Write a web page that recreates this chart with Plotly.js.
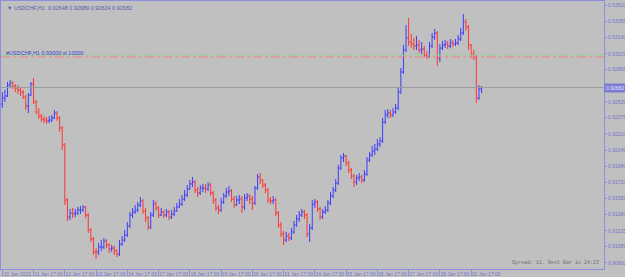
<!DOCTYPE html>
<html><head><meta charset="utf-8">
<script src="https://cdn.plot.ly/plotly-3.0.1.min.js"></script>
<style>html,body{margin:0;padding:0;background:#c0c0c0;}#chart{width:625px;height:277px;}</style>
</head><body><div id="chart"></div>
<script>
const symbolTitle = "\u25BC USDCHF,H1  0.92648 0.92689 0.92624 0.92682";
const spreadText = "Spread: 11. Next Bar in 24:23";
const orderLabel = "#USDCHF,H1 0.93000 sl 10000";
const tickHours = [0,24,48,72,96,120,144,168,192,216,240,264,288,312,336,360];
const tickLabels = ["10 Jan 2022","11 Jan 17:00","12 Jan 17:00","13 Jan 17:00","14 Jan 17:00","17 Jan 17:00","18 Jan 17:00","19 Jan 17:00","20 Jan 17:00","21 Jan 17:00","24 Jan 17:00","25 Jan 17:00","26 Jan 17:00","27 Jan 17:00","28 Jan 17:00","31 Jan 17:00"];
const priceTicks = [0.93520,0.93355,0.93190,0.93025,0.92865,0.92535,0.92375,0.92210,0.92045,0.91880,0.91720,0.91555,0.91390,0.91225,0.91065,0.90900];
const levelGreen = 0.93012;
const levelRed = 0.92992;
const openP = [0.92514,0.92575,0.92596,0.92707,0.92728,0.92697,0.92677,0.92657,0.92636,0.92585,
0.92494,0.92606,0.92718,0.92535,0.92433,0.92392,0.92362,0.92352,0.92342,0.92352,
0.92372,0.92423,0.92372,0.92271,0.92098,0.91539,0.91366,0.91407,0.91397,0.91407,
0.91437,0.91437,0.91468,0.91387,0.91234,0.91143,0.91011,0.91011,0.91061,0.91061,
0.91122,0.91082,0.91041,0.91051,0.91021,0.90990,0.91092,0.91133,0.91183,0.91275,
0.91387,0.91417,0.91437,0.91488,0.91529,0.91427,0.91356,0.91265,0.91387,0.91498,
0.91458,0.91387,0.91417,0.91387,0.91417,0.91366,0.91397,0.91427,0.91468,0.91498,
0.91549,0.91590,0.91651,0.91702,0.91722,0.91641,0.91610,0.91661,0.91661,0.91651,
0.91691,0.91610,0.91539,0.91458,0.91437,0.91519,0.91580,0.91620,0.91630,0.91549,
0.91488,0.91539,0.91549,0.91468,0.91559,0.91580,0.91549,0.91509,0.91661,0.91773,
0.91742,0.91691,0.91641,0.91539,0.91529,0.91539,0.91407,0.91285,0.91194,0.91133,
0.91173,0.91153,0.91214,0.91285,0.91346,0.91387,0.91417,0.91387,0.91194,0.91255,
0.91498,0.91519,0.91448,0.91366,0.91417,0.91437,0.91509,0.91580,0.91641,0.91712,
0.91864,0.91966,0.91986,0.91915,0.91844,0.91783,0.91722,0.91763,0.91773,0.91742,
0.91803,0.91945,0.91996,0.92037,0.92057,0.92108,0.92138,0.92331,0.92403,0.92423,
0.92403,0.92433,0.92474,0.92636,0.92839,0.93063,0.93185,0.93144,0.93124,0.93104,
0.93114,0.93063,0.93073,0.93012,0.93002,0.93104,0.93195,0.93236,0.92982,0.93083,
0.93114,0.93124,0.93104,0.93134,0.93124,0.93134,0.93175,0.93236,0.93347,0.93297,
0.93114,0.93022,0.92992,0.92575,0.92667];
const highP = [0.92636,0.92657,0.92738,0.92758,0.92748,0.92718,0.92707,0.92677,0.92657,0.92606,
0.92626,0.92738,0.92779,0.92555,0.92474,0.92413,0.92392,0.92382,0.92392,0.92403,
0.92453,0.92443,0.92392,0.92291,0.92118,0.91559,0.91448,0.91458,0.91448,0.91468,
0.91478,0.91488,0.91478,0.91407,0.91255,0.91163,0.91051,0.91102,0.91133,0.91153,
0.91143,0.91102,0.91082,0.91072,0.91041,0.91133,0.91173,0.91234,0.91315,0.91417,
0.91458,0.91488,0.91519,0.91569,0.91549,0.91458,0.91376,0.91417,0.91539,0.91529,
0.91478,0.91458,0.91437,0.91448,0.91437,0.91437,0.91468,0.91509,0.91549,0.91590,
0.91641,0.91691,0.91742,0.91773,0.91742,0.91671,0.91691,0.91702,0.91702,0.91722,
0.91712,0.91630,0.91559,0.91488,0.91559,0.91610,0.91661,0.91681,0.91651,0.91580,
0.91580,0.91590,0.91580,0.91600,0.91610,0.91600,0.91580,0.91681,0.91803,0.91813,
0.91752,0.91712,0.91661,0.91569,0.91580,0.91559,0.91427,0.91315,0.91224,0.91214,
0.91204,0.91255,0.91326,0.91387,0.91427,0.91448,0.91437,0.91407,0.91295,0.91539,
0.91549,0.91539,0.91468,0.91448,0.91478,0.91539,0.91620,0.91671,0.91752,0.91895,
0.91996,0.92017,0.91996,0.91935,0.91864,0.91803,0.91793,0.91813,0.91793,0.91844,
0.91976,0.92027,0.92088,0.92108,0.92159,0.92179,0.92372,0.92453,0.92464,0.92453,
0.92474,0.92514,0.92677,0.92880,0.93114,0.93317,0.93388,0.93226,0.93185,0.93205,
0.93165,0.93144,0.93104,0.93053,0.93144,0.93236,0.93276,0.93256,0.93124,0.93154,
0.93165,0.93154,0.93175,0.93165,0.93175,0.93215,0.93287,0.93429,0.93378,0.93317,
0.93124,0.93063,0.93012,0.92707,0.92697];
const lowP = [0.92474,0.92535,0.92585,0.92677,0.92667,0.92636,0.92616,0.92596,0.92565,0.92453,
0.92423,0.92596,0.92514,0.92413,0.92362,0.92331,0.92321,0.92311,0.92321,0.92331,
0.92362,0.92342,0.92230,0.92047,0.91488,0.91326,0.91336,0.91356,0.91366,0.91387,
0.91397,0.91417,0.91356,0.91204,0.91112,0.90980,0.90940,0.90980,0.91021,0.91041,
0.91051,0.91001,0.91011,0.90980,0.90960,0.90970,0.91072,0.91112,0.91163,0.91255,
0.91356,0.91397,0.91417,0.91468,0.91397,0.91315,0.91234,0.91244,0.91366,0.91427,
0.91356,0.91376,0.91356,0.91366,0.91336,0.91346,0.91376,0.91417,0.91458,0.91478,
0.91529,0.91569,0.91641,0.91671,0.91610,0.91569,0.91590,0.91620,0.91610,0.91630,
0.91580,0.91498,0.91427,0.91397,0.91417,0.91498,0.91559,0.91580,0.91519,0.91458,
0.91478,0.91498,0.91407,0.91437,0.91529,0.91498,0.91437,0.91488,0.91641,0.91702,
0.91661,0.91610,0.91509,0.91498,0.91498,0.91376,0.91255,0.91163,0.91082,0.91112,
0.91122,0.91133,0.91194,0.91265,0.91315,0.91366,0.91346,0.91163,0.91112,0.91234,
0.91458,0.91417,0.91336,0.91346,0.91397,0.91417,0.91488,0.91559,0.91620,0.91691,
0.91844,0.91925,0.91884,0.91813,0.91752,0.91671,0.91691,0.91732,0.91712,0.91722,
0.91783,0.91925,0.91976,0.91996,0.92037,0.92077,0.92118,0.92311,0.92372,0.92372,
0.92382,0.92413,0.92453,0.92616,0.92819,0.93043,0.93104,0.93083,0.93063,0.93063,
0.93033,0.93022,0.92992,0.92972,0.92982,0.93083,0.93165,0.92900,0.92941,0.93063,
0.93083,0.93073,0.93083,0.93093,0.93104,0.93114,0.93154,0.93215,0.93256,0.93063,
0.92982,0.92961,0.92525,0.92555,0.92624];
const closeP = [0.92575,0.92596,0.92707,0.92728,0.92697,0.92677,0.92657,0.92636,0.92585,0.92494,
0.92606,0.92718,0.92535,0.92433,0.92392,0.92362,0.92352,0.92342,0.92352,0.92372,
0.92423,0.92372,0.92271,0.92098,0.91539,0.91366,0.91407,0.91397,0.91407,0.91437,
0.91437,0.91468,0.91387,0.91234,0.91143,0.91011,0.91011,0.91061,0.91061,0.91122,
0.91082,0.91041,0.91051,0.91021,0.90990,0.91092,0.91133,0.91183,0.91275,0.91387,
0.91417,0.91437,0.91488,0.91529,0.91427,0.91356,0.91265,0.91387,0.91498,0.91458,
0.91387,0.91417,0.91387,0.91417,0.91366,0.91397,0.91427,0.91468,0.91498,0.91549,
0.91590,0.91651,0.91702,0.91722,0.91641,0.91610,0.91661,0.91661,0.91651,0.91691,
0.91610,0.91539,0.91458,0.91437,0.91519,0.91580,0.91620,0.91630,0.91549,0.91488,
0.91539,0.91549,0.91468,0.91559,0.91580,0.91549,0.91509,0.91661,0.91773,0.91742,
0.91691,0.91641,0.91539,0.91529,0.91539,0.91407,0.91285,0.91194,0.91133,0.91173,
0.91153,0.91214,0.91285,0.91346,0.91387,0.91417,0.91387,0.91194,0.91255,0.91498,
0.91519,0.91448,0.91366,0.91417,0.91437,0.91509,0.91580,0.91641,0.91712,0.91864,
0.91966,0.91986,0.91915,0.91844,0.91783,0.91722,0.91763,0.91773,0.91742,0.91803,
0.91945,0.91996,0.92037,0.92057,0.92108,0.92138,0.92331,0.92403,0.92423,0.92403,
0.92433,0.92474,0.92636,0.92839,0.93063,0.93185,0.93144,0.93124,0.93104,0.93114,
0.93063,0.93073,0.93012,0.93002,0.93104,0.93195,0.93236,0.92982,0.93083,0.93114,
0.93124,0.93104,0.93134,0.93124,0.93134,0.93175,0.93236,0.93347,0.93297,0.93114,
0.93022,0.92992,0.92575,0.92667,0.92682];
// bar index in hours (each record is a 2-hour bar)
const barHour = closeP.map((_, i) => i * 2);
const lastPrice = closeP[closeP.length - 1];

const axisCol = '#8e8ee0';
const labelCol = '#7474cc';
const fnt = {family: 'Liberation Sans, Arial, sans-serif', size: 5, color: labelCol};

const trace = {
  type: 'ohlc', x: barHour, open: openP, high: highP, low: lowP, close: closeP,
  increasing: {line: {color: '#3c3cff', width: 1}},
  decreasing: {line: {color: '#ff3434', width: 1}},
  tickwidth: 0.5, hoverinfo: 'skip', showlegend: false
};

const layout = {
  width: 625, height: 277,
  margin: {l: 1, r: 21, t: 1, b: 8, pad: 0},
  paper_bgcolor: '#c0c0c0', plot_bgcolor: '#c0c0c0',
  showlegend: false,
  xaxis: {
    range: [-1, 462], tickmode: 'array', tickvals: tickHours, ticktext: tickLabels,
    showgrid: false, zeroline: false, showline: true, linecolor: axisCol, linewidth: 1,
    mirror: true, ticks: 'outside', ticklen: 6, tickcolor: axisCol,
    tickfont: fnt, ticklabelshift: 15, ticklabelstandoff: -6,
    rangeslider: {visible: false}, fixedrange: true
  },
  yaxis: {
    side: 'right', range: [0.90838, 0.93561], tickmode: 'array', tickvals: priceTicks,
    tickformat: '.5f', showgrid: false, zeroline: false, showline: true,
    linecolor: axisCol, linewidth: 1, mirror: true, ticks: 'outside', ticklen: 2,
    tickcolor: axisCol, tickfont: fnt, ticklabelstandoff: 0, fixedrange: true
  },
  shapes: [
    {type: 'line', xref: 'paper', x0: 0, x1: 1, yref: 'y', y0: lastPrice, y1: lastPrice,
     line: {color: '#9c9c9c', width: 1}},
    {type: 'line', xref: 'paper', x0: 0, x1: 1, yref: 'y', y0: levelGreen, y1: levelGreen,
     line: {color: '#8fd08f', width: 1, dash: 'dashdot'}},
    {type: 'line', xref: 'paper', x0: 0, x1: 1, yref: 'y', y0: levelRed, y1: levelRed,
     line: {color: '#f08080', width: 1, dash: 'dashdot'}}
  ],
  annotations: [
    {xref: 'paper', yref: 'paper', x: 0, y: 1, xanchor: 'left', yanchor: 'top',
     xshift: 4, yshift: -2, showarrow: false, text: symbolTitle,
     font: {family: 'Liberation Sans, Arial, sans-serif', size: 5.5, color: '#5a5ab4'}},
    {xref: 'paper', yref: 'y', x: 0, y: levelGreen, xanchor: 'left', yanchor: 'bottom',
     xshift: 3, yshift: -3, showarrow: false, text: orderLabel,
     font: {family: 'Liberation Sans, Arial, sans-serif', size: 5.5, color: '#3c3cd0'}},
    {xref: 'paper', yref: 'paper', x: 1, y: 0, xanchor: 'right', yanchor: 'bottom',
     xshift: -3, yshift: 1, showarrow: false, text: spreadText,
     font: {family: 'Liberation Mono, monospace', size: 5, color: '#707070'}},
    {xref: 'paper', yref: 'y', x: 1, y: lastPrice, xanchor: 'left', yanchor: 'middle',
     xshift: 0, showarrow: false, text: lastPrice.toFixed(5), bgcolor: '#7b7bd4',
     borderpad: 1, font: {family: 'Liberation Sans, Arial, sans-serif', size: 5, color: '#e8e8ff'}}
  ]
};

Plotly.newPlot('chart', [trace], layout, {staticPlot: true, displayModeBar: false});
</script>
</body></html>
